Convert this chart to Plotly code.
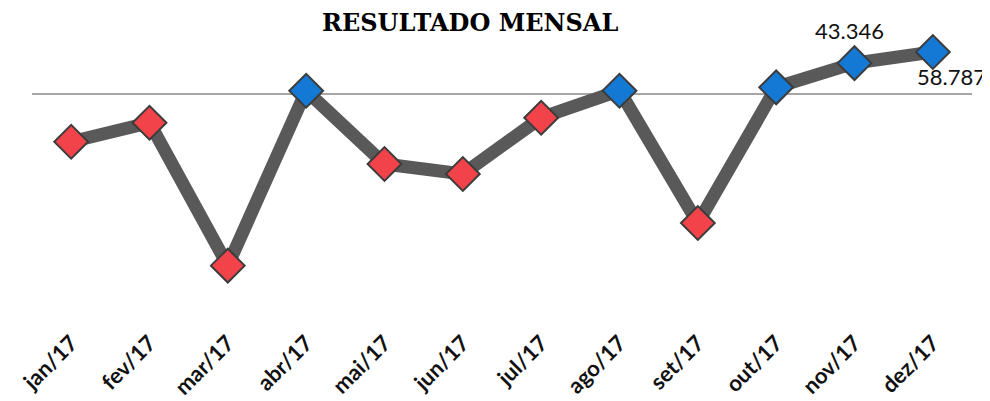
import plotly.graph_objects as go

months = ["jan/17", "fev/17", "mar/17", "abr/17", "mai/17", "jun/17",
          "jul/17", "ago/17", "set/17", "out/17", "nov/17", "dez/17"]
resultado = [-65900, -39500, -238200, 5000, -96900, -110800,
             -32500, 5000, -178900, 9700, 43346, 58787]
labeled = {"nov/17": "43.346", "dez/17": "58.787"}

RED = "#F2434A"
BLUE = "#1479D4"
colors = [RED if v < 0 else BLUE for v in resultado]

fig = go.Figure()
fig.add_trace(go.Scatter(
    x=months, y=resultado, mode="lines+markers",
    line=dict(color="#595959", width=13),
    marker=dict(symbol="diamond", size=26, color=colors,
                line=dict(color="#3C3C3C", width=2)),
    hoverinfo="x+y", showlegend=False,
))

shifts = {"nov/17": (-5, 33), "dez/17": (19, -24)}
for m, txt in labeled.items():
    i = months.index(m)
    dx, dy = shifts[m]
    fig.add_annotation(x=m, y=resultado[i], text=txt, showarrow=False,
                       xshift=dx, yshift=dy,
                       font=dict(family="Lato", size=22, color="#111111"))

fig.add_annotation(xref="paper", yref="paper", x=(470 - 32) / 940, y=1,
                   yshift=-2, yanchor="middle",
                   text="<b>RESULTADO MENSAL</b>", showarrow=False,
                   font=dict(family="DejaVu Serif", size=24, color="#000000"))

fig.update_layout(
    width=982, height=393,
    margin=dict(l=24, r=18, t=12, b=76),
    paper_bgcolor="white", plot_bgcolor="white",
    xaxis=dict(type="category", range=[-0.5, 11.5], showgrid=False,
               showline=False, ticks="", tickangle=-45, automargin=False,
               tickfont=dict(family="Lato", size=22, color="#111111")),
    yaxis=dict(range=[-320700, 103300], showgrid=False, showticklabels=False,
               zeroline=True, zerolinecolor="#A6A6A6", zerolinewidth=2,
               showline=False, ticks="", automargin=False),
)
fig.update_xaxes(tickprefix="<b>", ticksuffix="</b>")

fig.write_html("out.html")
